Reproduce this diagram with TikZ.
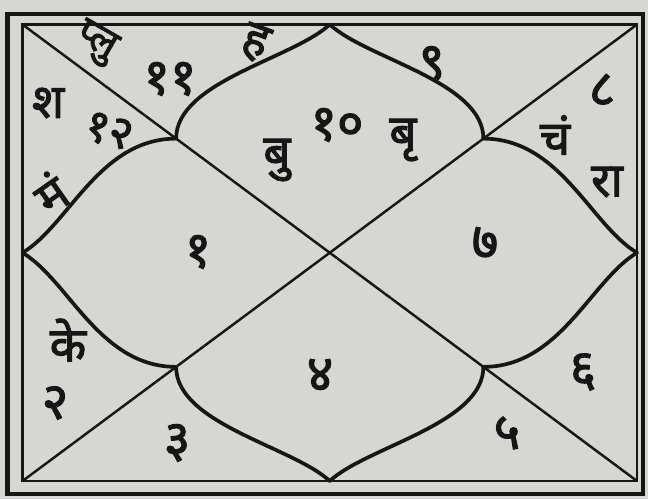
\documentclass[tikz,border=0pt]{standalone}
\usepackage{fontspec}
\newfontfamily\deva[Script=Devanagari,FakeBold=2.2]{Noto Sans}
\usetikzlibrary{calc}
\definecolor{paper}{RGB}{214,215,210}
\definecolor{ink}{RGB}{22,22,22}
\tikzset{
  frame/.style={draw=ink,line width=#1},
  frame/.default=1.6pt,
  diag/.style={draw=ink,line width=1.4pt},
  petal/.style={draw=ink,line width=2.1pt,line cap=round},
  sign/.style={font=\deva\fontsize{27}{30}\selectfont,text=ink,inner sep=0pt},
  num/.style={sign,font=\deva\fontsize{29}{30}\selectfont},
}

\begin{document}
\begin{tikzpicture}
  \fill[paper] (0,0) rectangle (12.96,9.98);
  \useasboundingbox (0,0) rectangle (12.96,9.98);
  % outer frame
  \draw[frame=2.8pt] (0.15,0.10) rectangle (12.86,9.70);
  % chart, unit square around the centre
  \begin{scope}[shift={(6.595,4.925)},x=6.145cm,y=4.565cm]
    \draw[frame] (-1,-1) rectangle (1,1);
    \draw[diag] (-1,-1) -- (1,1);
    \draw[diag] (-1,1) -- (1,-1);
    \foreach \sx in {-1,1}
      \foreach \sy in {-1,1} {
        \draw[petal] (0,\sy) .. controls (0.12*\sx,0.85*\sy) and (0.5*\sx,0.75*\sy) .. (0.5*\sx,0.5*\sy);
        \draw[petal] (\sx,0) .. controls (0.85*\sx,0.12*\sy) and (0.75*\sx,0.5*\sy) .. (0.5*\sx,0.5*\sy);
      }
  \end{scope}
  % houses and planets
  \node[sign,rotate=-30,scale=0.85] (pluto) at (1.90,9.12) {प्लु};
  \node[num] (h11) at (3.40,8.40) {११};
  \node[sign,rotate=-20] (harshal) at (5.10,9.12) {ह};
  \node[sign] (shani) at (0.96,7.92) {श};
  \node[num,rotate=-15,scale=0.9] (h12) at (2.18,7.36) {१२};
  \node[sign,rotate=35] (mangal) at (1.00,6.12) {मं};
  \node[num] (h1) at (3.96,4.94) {१};
  \node[sign] (budh) at (5.54,6.78) {बु};
  \node[num] (h10) at (6.74,7.48) {१०};
  \node[sign] (guru) at (8.06,7.18) {बृ};
  \node[num] (h9) at (8.64,8.72) {९};
  \node[num] (h8) at (12.04,8.18) {८};
  \node[sign] (chandra) at (11.10,7.28) {चं};
  \node[sign] (rahu) at (12.14,6.34) {रा};
  \node[num] (h7) at (9.70,5.12) {७};
  \node[sign] (ketu) at (1.36,3.18) {के};
  \node[num] (h2) at (1.10,1.92) {२};
  \node[num] (h3) at (3.54,1.12) {३};
  \node[num] (h4) at (6.40,2.48) {४};
  \node[num] (h5) at (10.14,1.32) {५};
  \node[num] (h6) at (11.66,2.54) {६};
\end{tikzpicture}
\end{document}
